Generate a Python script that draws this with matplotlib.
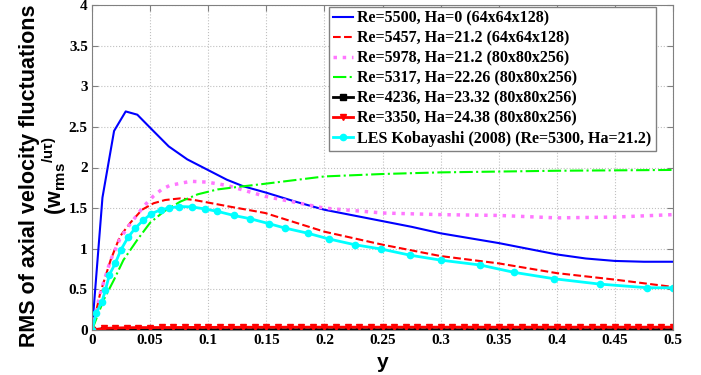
import numpy as np
import matplotlib
matplotlib.use('Agg')
import matplotlib.pyplot as plt

# Re=5500, Ha=0 (64x64x128)
y_ha0 = [0, 0.009, 0.019, 0.029, 0.039, 0.05, 0.066, 0.082, 0.099, 0.116, 0.13, 0.15, 0.175,
         0.2, 0.225, 0.25, 0.275, 0.3, 0.325, 0.35, 0.375, 0.4, 0.425, 0.45, 0.475, 0.5]
w_ha0 = [0, 1.63, 2.45, 2.69, 2.65, 2.49, 2.26, 2.10, 1.975, 1.85, 1.77, 1.69, 1.58,
         1.48, 1.41, 1.34, 1.27, 1.19, 1.13, 1.07, 1.00, 0.93, 0.88, 0.85, 0.84, 0.84]

# Re=5457, Ha=21.2 (64x64x128)
y_5457 = [0, 0.007, 0.016, 0.024, 0.033, 0.043, 0.053, 0.063, 0.076, 0.088, 0.105, 0.118,
          0.149, 0.2, 0.25, 0.3, 0.35, 0.4, 0.45, 0.5]
w_5457 = [0, 0.45, 0.86, 1.15, 1.32, 1.48, 1.56, 1.60, 1.62, 1.60, 1.555, 1.52,
          1.44, 1.21, 1.05, 0.91, 0.82, 0.70, 0.62, 0.53]

# Re=5978, Ha=21.2 (80x80x256)
y_5978 = [0, 0.007, 0.016, 0.024, 0.030, 0.039, 0.045, 0.053, 0.06, 0.067, 0.085, 0.099,
          0.116, 0.149, 0.2, 0.25, 0.3, 0.35, 0.4, 0.45, 0.5]
w_5978 = [0, 0.45, 0.86, 1.12, 1.25, 1.42, 1.53, 1.65, 1.73, 1.78, 1.83, 1.82,
          1.78, 1.645, 1.50, 1.44, 1.42, 1.41, 1.38, 1.39, 1.42]

# Re=5317, Ha=22.26 (80x80x256)
y_5317 = [0, 0.010, 0.019, 0.027, 0.039, 0.050, 0.062, 0.076, 0.091, 0.108, 0.125, 0.149,
          0.2, 0.25, 0.3, 0.35, 0.4, 0.45, 0.5]
w_5317 = [0, 0.37, 0.62, 0.86, 1.11, 1.32, 1.46, 1.58, 1.67, 1.73, 1.76, 1.80,
          1.89, 1.92, 1.94, 1.95, 1.96, 1.965, 1.97]

# Re=4236 and Re=3350 (80x80x256), almost zero
y_wall = [0.00, 0.01, 0.02, 0.03, 0.04, 0.05, 0.06, 0.07, 0.08, 0.09,
          0.10, 0.11, 0.12, 0.13, 0.14, 0.15, 0.16, 0.17, 0.18, 0.19,
          0.20, 0.21, 0.22, 0.23, 0.24, 0.25, 0.26, 0.27, 0.28, 0.29,
          0.30, 0.31, 0.32, 0.33, 0.34, 0.35, 0.36, 0.37, 0.38, 0.39,
          0.40, 0.41, 0.42, 0.43, 0.44, 0.45, 0.46, 0.47, 0.48, 0.49, 0.50]
w_4236 = [0.0, 0.003, 0.004, 0.004, 0.004, 0.004, 0.004, 0.004, 0.004, 0.004,
          0.004, 0.004, 0.004, 0.004, 0.004, 0.004, 0.004, 0.004, 0.004, 0.004,
          0.004, 0.004, 0.004, 0.004, 0.004, 0.004, 0.004, 0.004, 0.004, 0.004,
          0.004, 0.004, 0.004, 0.004, 0.004, 0.004, 0.004, 0.004, 0.004, 0.004,
          0.004, 0.004, 0.004, 0.004, 0.004, 0.004, 0.004, 0.004, 0.004, 0.004, 0.004]
w_3350 = [0.0, 0.02, 0.025, 0.028, 0.03, 0.03, 0.031, 0.031, 0.032, 0.032,
          0.033, 0.033, 0.033, 0.034, 0.034, 0.034, 0.034, 0.035, 0.035, 0.035,
          0.035, 0.035, 0.035, 0.035, 0.035, 0.035, 0.035, 0.035, 0.035, 0.035,
          0.035, 0.035, 0.035, 0.035, 0.035, 0.035, 0.035, 0.035, 0.035, 0.035,
          0.035, 0.035, 0.035, 0.035, 0.035, 0.035, 0.035, 0.035, 0.035, 0.035, 0.035]

# LES Kobayashi (2008)
y_les = [0, 0.0037, 0.0086, 0.0115, 0.015, 0.020, 0.025, 0.031, 0.037, 0.044, 0.051, 0.059,
         0.066, 0.075, 0.086, 0.097, 0.108, 0.122, 0.136, 0.152, 0.166, 0.186, 0.204, 0.226,
         0.249, 0.274, 0.300, 0.334, 0.363, 0.398, 0.437, 0.478, 0.5]
w_les = [0, 0.21, 0.35, 0.49, 0.68, 0.82, 0.99, 1.14, 1.25, 1.35, 1.43, 1.48,
         1.50, 1.52, 1.515, 1.49, 1.46, 1.41, 1.37, 1.31, 1.255, 1.19, 1.12, 1.05,
         0.996, 0.92, 0.86, 0.80, 0.71, 0.63, 0.565, 0.52, 0.52]

labels = ['Re=5500, Ha=0 (64x64x128)',
          'Re=5457, Ha=21.2 (64x64x128)',
          'Re=5978, Ha=21.2 (80x80x256)',
          'Re=5317, Ha=22.26 (80x80x256)',
          'Re=4236, Ha=23.32 (80x80x256)',
          'Re=3350, Ha=24.38 (80x80x256)',
          'LES Kobayashi (2008) (Re=5300, Ha=21.2)']

serif = 'Liberation Serif'
sans = 'Liberation Sans'

fig = plt.figure(figsize=(7.01, 3.75), dpi=100)
ax = fig.add_axes([92 / 701, 45 / 375, 581 / 701, 325 / 375])

ax.plot(y_ha0, w_ha0, '-', color='#0000ff', lw=1.5, label=labels[0])
ax.plot(y_5457, w_5457, '--', color='#ff0000', lw=1.5, label=labels[1])
ax.plot(y_5978, w_5978, ':', color='#ff77ff', lw=2.5, label=labels[2])
ax.plot(y_5317, w_5317, '-.', color='#00ff00', lw=1.5, label=labels[3])
ax.plot(y_wall, w_4236, '-', color='black', lw=2, marker='s', ms=4, label=labels[4])
ax.plot(y_wall, w_3350, '-', color='#ff0000', lw=2, marker='v', ms=5, label=labels[5])
ax.plot(y_les, w_les, '-', color='#00ffff', lw=2, marker='o', ms=4.5, label=labels[6])

ax.set_xlim(0, 0.5)
ax.set_ylim(0, 4)
ax.set_xticks([0, 0.05, 0.1, 0.15, 0.2, 0.25, 0.3, 0.35, 0.4, 0.45, 0.5])
ax.set_xticklabels(['0', '0.05', '0.1', '0.15', '0.2', '0.25', '0.3', '0.35', '0.4', '0.45', '0.5'])
ax.set_yticks([0, 0.5, 1, 1.5, 2, 2.5, 3, 3.5, 4])
ax.set_yticklabels(['0', '0.5', '1', '1.5', '2', '2.5', '3', '3.5', '4'])
ax.tick_params(direction='in', length=4, color='#808080', pad=3, top=True, right=True)
for lab in ax.get_xticklabels() + ax.get_yticklabels():
    lab.set_fontfamily(serif)
    lab.set_fontweight('bold')
    lab.set_fontsize(11)
for s in ax.spines.values():
    s.set_color('#808080')
ax.grid(True, linestyle=':', color='#c0c0c0', lw=0.8)

ax.set_xlabel('y', fontfamily=sans, fontweight='bold', fontsize=15, labelpad=4)
fig.text(44 / 701, 1 - 176 / 375,
         'RMS of axial velocity fluctuations\n'
         r'(w$_{\mathregular{rms}}$$^{\mathregular{/u\tau)}}$',
         fontfamily=sans, fontweight='bold', fontsize=15.5, linespacing=1.0,
         rotation=90, ha='center', va='center', multialignment='center')

leg = ax.legend(loc='upper right', bbox_to_anchor=(0.97, 0.995),
                prop={'family': serif, 'weight': 'bold', 'size': 11.5},
                fancybox=False, framealpha=1, edgecolor='#808080',
                handlelength=1.2, handletextpad=0.3, labelspacing=0.25,
                borderpad=0.25, borderaxespad=0)
leg.get_frame().set_linewidth(1.0)

fig.savefig('out.png', dpi=100)
